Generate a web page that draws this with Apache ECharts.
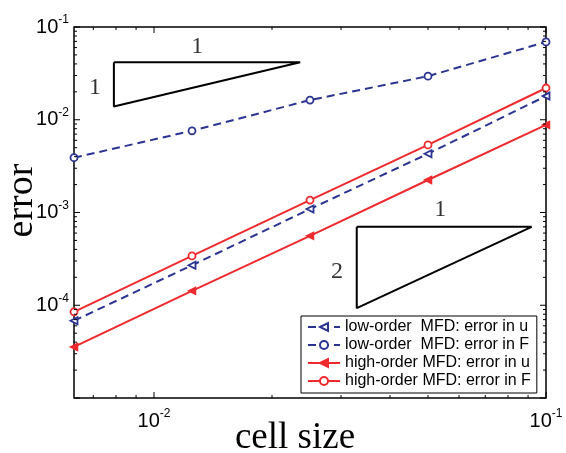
<!DOCTYPE html>
<html>
<head>
<meta charset="utf-8">
<script src="https://cdn.jsdelivr.net/npm/echarts@6/dist/echarts.min.js"></script>
<style>
  html, body { margin: 0; padding: 0; background: #fff; }
  #chart { width: 566px; height: 453px; }
</style>
</head>
<body>
<div id="chart"></div>
<script>
// data (log-log convergence plot)
const cellSize = [0.00625, 0.0125, 0.025, 0.05, 0.1];
const lowOrderU = [6.8e-5, 2.7e-4, 1.09e-3, 4.3e-3, 1.8e-2];
const lowOrderF = [3.9e-3, 7.6e-3, 1.63e-2, 2.95e-2, 6.9e-2];
const highOrderU = [3.55e-5, 1.43e-4, 5.6e-4, 2.24e-3, 8.8e-3];
const highOrderF = [8.5e-5, 3.4e-4, 1.36e-3, 5.35e-3, 2.2e-2];

const seriesNames = [
  'low-order  MFD: error in u',
  'low-order  MFD: error in F',
  'high-order MFD: error in u',
  'high-order MFD: error in F'
];

// slope triangles (data coords)
const slope1 = [[0.0079, 0.0417], [0.0236, 0.0417], [0.0079, 0.0139], [0.0079, 0.0417]];
const slope2 = [[0.0329, 7.0e-4], [0.0919, 7.0e-4], [0.0329, 9.3e-5], [0.0329, 7.0e-4]];
const slopeLabels = [
  [0.0129, 0.064, '1'], [0.00707, 0.0231, '1'],
  [0.0537, 1.12e-3, '1'], [0.0293, 2.4e-4, '2']
];

// axis ticks
const xRange = [0.00625, 0.1];
const yRange = [1e-5, 1e-1];
const xMajor = [0.01, 0.1];
const yMajor = [1e-5, 1e-4, 1e-3, 1e-2, 1e-1];

const blue = '#2b3492';
const red = '#ee2a2e';

function minorTicks(lo, hi) {
  const out = [];
  for (let e = Math.floor(Math.log10(lo)); e < Math.ceil(Math.log10(hi)); e++) {
    for (let k = 2; k <= 9; k++) {
      const v = k * Math.pow(10, e);
      if (v > lo * 1.0001 && v < hi * 0.9999) out.push(v);
    }
  }
  return out;
}
const xMinor = minorTicks(xRange[0], xRange[1]);
const yMinor = minorTicks(yRange[0], yRange[1]);

function powLabel(hideExp) {
  return function (v) {
    const l = Math.log10(v);
    const e = Math.round(l);
    if (Math.abs(l - e) > 1e-3 || e === hideExp) return '';
    return '{b|10}{s|' + e + '}';
  };
}
const richPow = {
  b: { fontSize: 20, fontFamily: 'Liberation Sans', color: '#000' },
  s: { fontSize: 12, fontFamily: 'Liberation Sans', color: '#000', padding: [0, 0, 14, 0] }
};

function pairs(ys) {
  return cellSize.map((x, i) => [x, ys[i]]);
}

const myChart = echarts.init(document.getElementById('chart'));

const option = {
  animation: false,
  backgroundColor: '#fff',
  grid: {
    left: 74, right: 20, top: 27, bottom: 55,
    outerBoundsMode: 'none', containLabel: false,
    show: true, borderColor: '#000', borderWidth: 1.5, backgroundColor: 'transparent'
  },
  xAxis: {
    type: 'log', logBase: 10, min: xRange[0], max: xRange[1],
    axisLine: { show: false },
    axisTick: { show: false },
    splitLine: { show: false },
    axisLabel: { formatter: powLabel(null), rich: richPow, margin: 10, showMinLabel: true, showMaxLabel: true },
    name: 'cell size', nameLocation: 'middle', nameGap: 40, nameMoveOverlap: false,
    nameTextStyle: { fontFamily: 'Liberation Serif', fontSize: 37, color: '#000', verticalAlign: 'middle', padding: [0, 30, 0, 0] }
  },
  yAxis: {
    type: 'log', logBase: 10, min: yRange[0], max: yRange[1],
    axisLine: { show: false },
    axisTick: { show: false },
    splitLine: { show: false },
    axisLabel: { formatter: powLabel(-5), rich: richPow, margin: 5 },
    name: 'error', nameLocation: 'middle', nameGap: 52, nameMoveOverlap: false,
    nameTextStyle: { fontFamily: 'Liberation Serif', fontSize: 38, color: '#000', verticalAlign: 'middle', padding: [0, 0, 0, 24] }
  },
  legend: {
    data: seriesNames,
    orient: 'vertical',
    left: 301, top: 316,
    padding: [3, 6, 4, 6],
    itemGap: 2,
    itemWidth: 32, itemHeight: 10,
    borderColor: '#000', borderWidth: 1, borderRadius: 0,
    backgroundColor: '#fff', z: 8,
    textStyle: { fontFamily: 'Liberation Sans', fontSize: 16, lineHeight: 16, color: '#000' }
  },
  series: [
    {
      name: seriesNames[0], type: 'line', data: pairs(lowOrderU),
      symbol: 'triangle', symbolRotate: 90, symbolSize: 7,
      lineStyle: { color: blue, width: 2, type: [8, 5] },
      itemStyle: { color: '#fff', borderColor: blue, borderWidth: 1.8 },
      z: 3
    },
    {
      name: seriesNames[1], type: 'line', data: pairs(lowOrderF),
      symbol: 'circle', symbolSize: 7,
      lineStyle: { color: blue, width: 2, type: [8, 5] },
      itemStyle: { color: '#fff', borderColor: blue, borderWidth: 1.8 },
      z: 3
    },
    {
      name: seriesNames[2], type: 'line', data: pairs(highOrderU),
      symbol: 'triangle', symbolRotate: 90, symbolSize: 7,
      lineStyle: { color: red, width: 2 },
      itemStyle: { color: red, borderColor: red, borderWidth: 1.5 },
      z: 3
    },
    {
      name: seriesNames[3], type: 'line', data: pairs(highOrderF),
      symbol: 'circle', symbolSize: 7,
      lineStyle: { color: red, width: 2 },
      itemStyle: { color: '#fff', borderColor: red, borderWidth: 1.8 },
      z: 3
    },
    {
      type: 'line', data: slope1, symbol: 'none', silent: true,
      lineStyle: { color: '#000', width: 2 }
    },
    {
      type: 'line', data: slope2, symbol: 'none', silent: true,
      lineStyle: { color: '#000', width: 2 }
    },
    {
      type: 'scatter', data: slopeLabels, symbolSize: 0, silent: true,
      label: {
        show: true, position: 'inside', offset: [0, 2],
        formatter: p => p.data[2],
        fontFamily: 'Liberation Serif', fontSize: 24, color: '#000'
      }
    },
    {
      // ticks on all four sides, pointing inward
      type: 'custom', silent: true, data: [[0.01, 0.001]], z: 5,
      renderItem: function (params, api) {
        const cs = params.coordSys;
        const top = cs.y, bottom = cs.y + cs.height, left = cs.x, right = cs.x + cs.width;
        const children = [];
        const st = { stroke: '#000', lineWidth: 1 };
        function xt(v, len) {
          const px = api.coord([v, yRange[0]])[0];
          children.push({ type: 'line', shape: { x1: px, y1: bottom, x2: px, y2: bottom - len }, style: st });
          children.push({ type: 'line', shape: { x1: px, y1: top, x2: px, y2: top + len }, style: st });
        }
        function yt(v, len) {
          const py = api.coord([xRange[0], v])[1];
          children.push({ type: 'line', shape: { x1: left, y1: py, x2: left + len, y2: py }, style: st });
          children.push({ type: 'line', shape: { x1: right, y1: py, x2: right - len, y2: py }, style: st });
        }
        xMajor.forEach(v => xt(v, 6));
        xMinor.forEach(v => xt(v, 3));
        yMajor.forEach(v => yt(v, 6));
        yMinor.forEach(v => yt(v, 3));
        return { type: 'group', children: children };
      }
    }
  ]
};

myChart.setOption(option);
</script>
</body>
</html>
